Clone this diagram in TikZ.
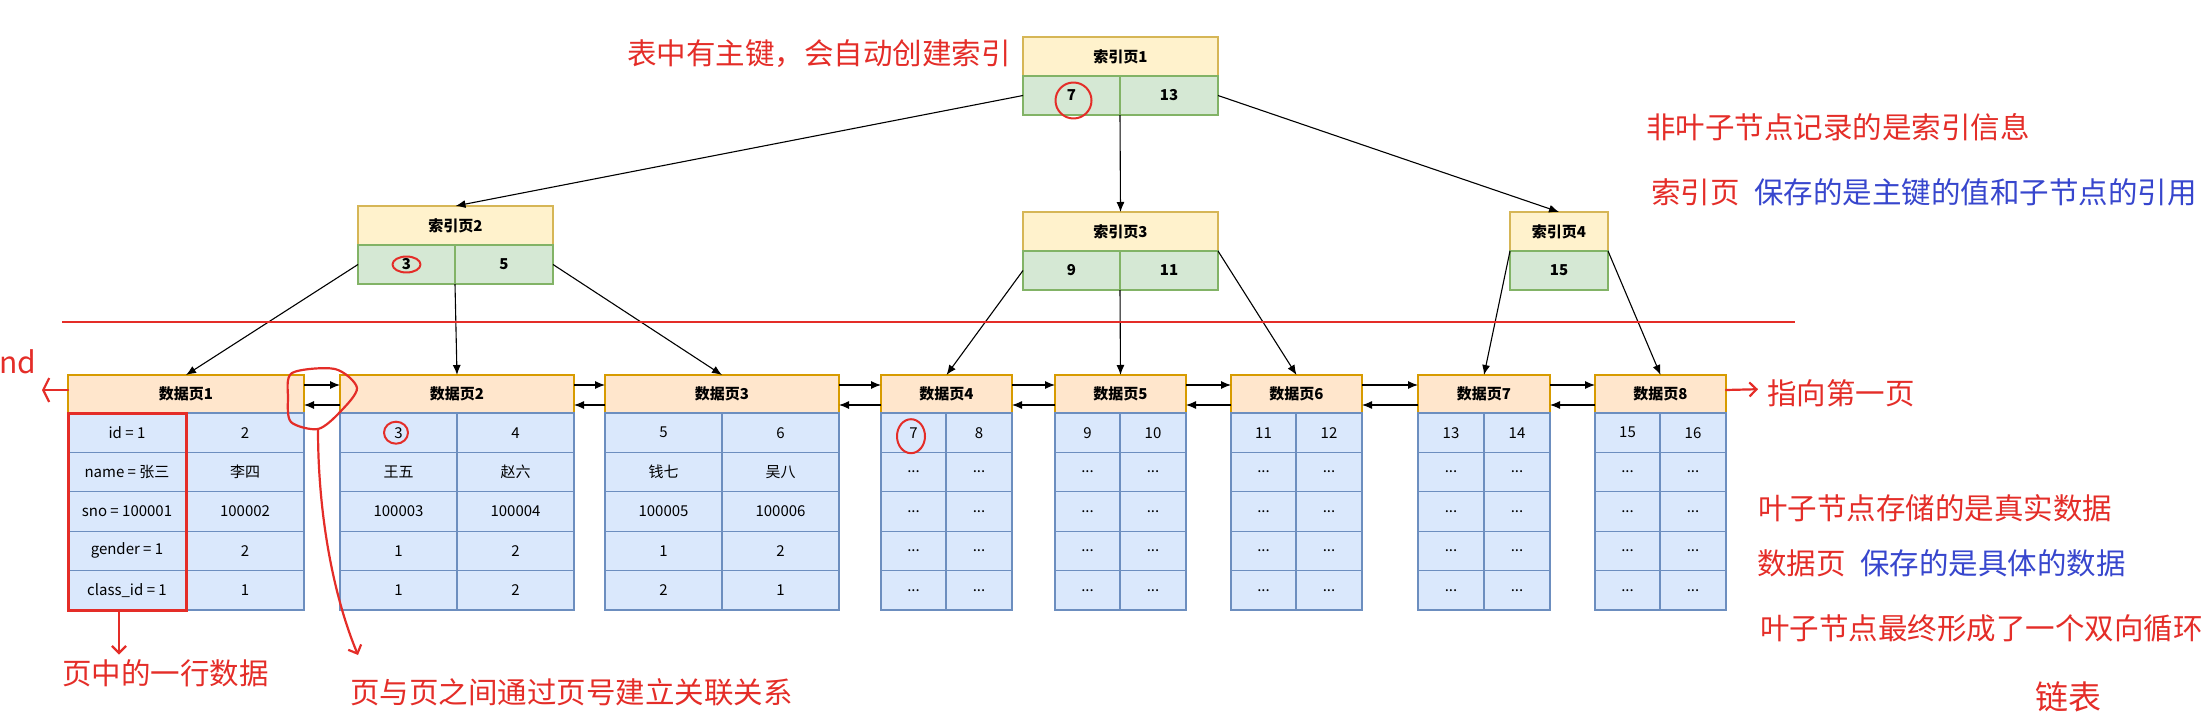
\documentclass[tikz,border=0pt]{standalone}
\usepackage{fontspec}
\setmainfont{Noto Sans CJK SC}
\usetikzlibrary{positioning,fit,arrows.meta}
\definecolor{idxhead}{HTML}{FFF2CC}
\definecolor{idxheadline}{HTML}{D6B656}
\definecolor{idxbody}{HTML}{D5E8D4}
\definecolor{idxbodyline}{HTML}{82B366}
\definecolor{dathead}{HTML}{FFE6CC}
\definecolor{datheadline}{HTML}{D79B00}
\definecolor{datbody}{HTML}{DAE8FC}
\definecolor{datbodyline}{HTML}{6C8EBF}
\definecolor{hlred}{RGB}{228,45,40}
\definecolor{hlblue}{RGB}{55,70,205}
\newcommand{\elide}{...}
\begin{document}
\begin{tikzpicture}[>={Latex[length=10pt, width=8pt]}, x=1pt, y=-1pt]
			\tikzset{
				box/.style={draw, inner sep=0, outer sep=0, line width=1.2pt, font=\fontsize{15}{18}\selectfont},
				ihead/.style={box, fill=idxhead, draw=idxheadline, minimum height=39pt, font=\fontsize{15}{18}\selectfont\bfseries},
				icell/.style={box, fill=idxbody, draw=idxbodyline, minimum height=39pt, font=\fontsize{15}{18}\selectfont\bfseries},
				dhead/.style={box, fill=dathead, draw=datheadline, minimum height=38pt, font=\fontsize{15}{18}\selectfont\bfseries},
				dcell/.style={box, fill=datbody, draw=datbodyline, minimum height=39.4pt},
				link/.style={->, line width=1.1pt},
				note/.style={text=hlred, anchor=west, inner sep=0, font=\fontsize{29.5}{34}\selectfont},
				scrawl/.style={hlred, line width=2.2pt, line cap=round, line join=round},
				scrawlarrow/.style={scrawl, -{Straight Barb[length=7pt, width=14pt]}},
			}
			\useasboundingbox (0,0) rectangle (2211,722);
			% index pages
			\foreach \n/\l/\m/\r/\ty/\a/\b in {1/1023/1120/1218/37/7/13, 2/358/455/553/206/3/5, 3/1023/1120/1218/212/9/11}
				{
					\node[ihead, minimum width={(\r-\l)*1pt}] (ix\n) at ({(\l+\r)/2}, \ty+19.5) {索引页\n};
					\node[icell, minimum width={(\m-\l)*1pt}] (ix\n-a) at ({(\l+\m)/2}, \ty+58.5) {\a};
					\node[icell, minimum width={(\r-\m)*1pt}] (ix\n-b) at ({(\m+\r)/2}, \ty+58.5) {\b};
				}
			\node[ihead, minimum width=98pt] (ix4) at (1559, 231.5) {索引页4};
			\node[icell, minimum width=98pt] (ix4-a) at (1559, 270.5) {15};
			% data pages
			\foreach \n/\l/\m/\r/\rows in {
					1/68/186/304/{{id = 1}/2, {name = 张三}/李四, {sno = 100001}/100002, {gender = 1}/2, {class\_id = 1}/1},
					2/340/457/574/{3/4, 王五/赵六, 100003/100004, 1/2, 1/2},
					3/605/722/839/{5/6, 钱七/吴八, 100005/100006, 1/2, 2/1},
					4/881/946/1012/{7/8, \elide/\elide, \elide/\elide, \elide/\elide, \elide/\elide},
					5/1055/1120/1186/{9/10, \elide/\elide, \elide/\elide, \elide/\elide, \elide/\elide},
					6/1231/1296/1362/{11/12, \elide/\elide, \elide/\elide, \elide/\elide, \elide/\elide},
					7/1418/1484/1550/{13/14, \elide/\elide, \elide/\elide, \elide/\elide, \elide/\elide},
					8/1595/1660/1726/{15/16, \elide/\elide, \elide/\elide, \elide/\elide, \elide/\elide}}
				{
					\node[dhead, minimum width={(\r-\l)*1pt}] (dp\n) at ({(\l+\r)/2}, 394) {数据页\n};
					\foreach \a/\b [count=\k] in \rows {
							\node[dcell, minimum width={(\m-\l)*1pt}] (dp\n-\k-a) at ({(\l+\m)/2}, 393.3+39.4*\k) {\a};
							\node[dcell, minimum width={(\r-\m)*1pt}] (dp\n-\k-b) at ({(\m+\r)/2}, 393.3+39.4*\k) {\b};
						}
				}
			% page links
			\foreach \i/\j in {1/2, 2/3, 3/4, 4/5, 5/6, 6/7, 7/8}
				{
					\draw[link] ([yshift=9pt]dp\i.east) -- ([yshift=9pt]dp\j.west);
					\draw[link] ([yshift=-11pt]dp\j.west) -- ([yshift=-11pt]dp\i.east);
				}
			% tree
			\draw[link] (ix1-a.west) -- (ix2.north);
			\draw[link] (ix1-a.south east) -- (ix3.north);
			\draw[link] (ix1-b.east) -- (ix4.north);
			\draw[link] (ix2-a.west) -- (dp1.north);
			\draw[link] (ix2-a.south east) -- (dp2.north);
			\draw[link] (ix2-b.east) -- (dp3.north);
			\draw[link] (ix3-a.west) -- (dp4.north);
			\draw[link] (ix3-a.south east) -- (dp5.north);
			\draw[link] (ix3-b.north east) -- (dp6.north);
			\draw[link] (ix4-a.north west) -- (dp7.north);
			\draw[link] (ix4-a.north east) -- (dp8.north);
			\draw[hlred, line width=2.5pt] (62,322) -- (1795,322);
			% notes
			\node[note] (autoidx) at (627,54) {表中有主键，会自动创建索引};
			\node[note] (nonleaf) at (1646,127) {非叶子节点记录的是索引信息};
			\node[note] (idxword) at (1651,192) {索引页};
			\node[note, text=hlblue, right=14pt of idxword] (idxsave) {保存的是主键的值和子节点的引用};
			\node[note] (tofirst) at (1767,393) {指向第一页};
			\node[note] (leaf) at (1758,508) {叶子节点存储的是真实数据};
			\node[note] (datword) at (1757,563) {数据页};
			\node[note, text=hlblue, right=14pt of datword] (datsave) {保存的是具体的数据};
			\node[note] (ring) at (1760,628) {叶子节点最终形成了一个双向循环};
			\node[note, font=\fontsize{33}{38}\selectfont] (chain) at (2035,697) {链表};
			\node[note, font=\fontsize{30}{34}\selectfont] (tail) at (-1,362) {nd};
			\node[note] (rowtxt) at (62,673) {页中的一行数据};
			\node[note] (pagetxt) at (350,692) {页与页之间通过页号建立关联关系};
			% red marks
			\node[draw=hlred, line width=3pt, inner sep=0, fit=(dp1-1-a)(dp1-5-a)] (rowbox) {};
			\draw[scrawlarrow] ([xshift=-8pt]rowbox.south) -- ++(0,43);
			\draw[scrawl] plot[smooth cycle] coordinates {(292,373) (335,369) (357,388) (340,412) (318,429) (291,422) (288,398)};
			\coordinate (loopend) at (318,429);
			\coordinate (pagetip) at (358,655);
			\draw[scrawlarrow] (loopend) .. controls (318,520) and (335,600) .. (pagetip);
			\draw[scrawl, -{Straight Barb[length=6pt, width=24pt]}] ([yshift=4pt]dp1.west) -- ++(-26,0);
			\draw[scrawlarrow, shorten >=9pt] ([yshift=4pt]dp8.east) -- (tofirst.west |- 0,389);
			\draw[scrawl, line width=2pt] ([shift={(2,5)}]ix1-a.center) ellipse [x radius=18pt, y radius=18pt];
			\draw[scrawl, line width=2pt] (ix2-a.center) ellipse [x radius=14pt, y radius=8pt];
			\draw[scrawl, line width=2pt] ([shift={(-2.5,0)}]dp2-1-a.center) ellipse [x radius=12pt, y radius=11pt];
			\draw[scrawl, line width=2pt] ([shift={(-2.5,3.5)}]dp4-1-a.center) ellipse [x radius=14pt, y radius=17pt];
		\end{tikzpicture}
\end{document}
